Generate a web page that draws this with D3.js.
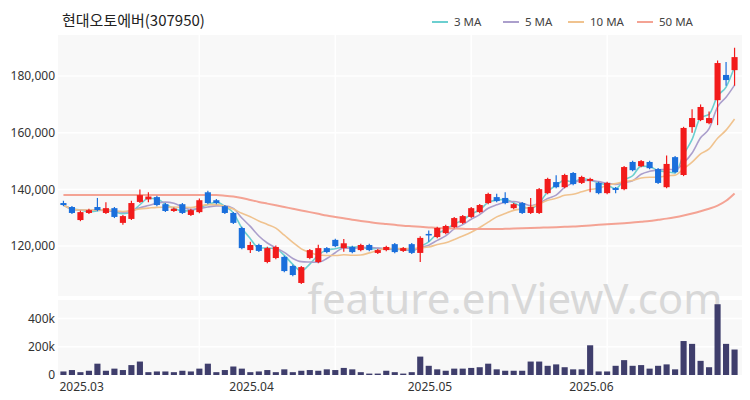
<!DOCTYPE html>
<html><head><meta charset="utf-8">
<script src="https://cdn.jsdelivr.net/npm/d3@7"></script>
<style>body{margin:0;background:#fff}svg{font-family:"Noto Sans CJK KR","Noto Sans",sans-serif}</style>
</head><body><svg id="c" width="750" height="400"></svg>
<script>
const openK=[135.2,133.8,129.2,131.7,133.8,131.7,133.4,128.2,129.6,135.6,136.5,137.3,134.8,132.4,134.8,131,132,139,136.2,134.1,131.7,126.4,118.6,120.4,114.4,115.8,116.2,113,107,115.8,114.4,119.3,122.2,119.3,119.7,118.6,120.4,117.6,118.6,120.7,118.3,120.7,117.6,124.3,123.2,124.6,126.7,128.2,130.3,132,135.2,137.3,137,133.4,135.2,131.7,131.7,138.7,142.6,140.8,145.8,142.3,143,142.3,138.7,140.5,140.1,149.7,148.2,149.7,147.2,140.8,151.4,145.1,162,164.5,163.4,171.5,180.4,182.1];
const closeK=[134.5,131.7,132,132.7,132.7,133.4,130.3,130.6,135.2,138,137.5,134.5,132.4,133.2,131.7,132.7,136.2,135.2,135.2,131.7,128.2,119.3,120.4,118.3,119.3,119.7,111.2,109.8,112.6,118.6,119.3,117.9,120,121,117.9,120.4,118.6,118.6,119.7,117.9,119.3,117.6,122.9,124,126.4,127.1,129.9,130.6,133.4,134.5,138.4,135.9,135.2,134.8,131.7,133.8,140.1,143.7,140.8,145.1,141.9,144.4,143.7,138.7,142.3,139.8,147.9,146.8,150,147.5,142.3,149,146.1,161.7,165.2,169.1,165.2,184.6,178.6,186.7];
const highK=[136,134.2,132.5,133.2,137,135.5,133.8,131,136,140,139,137.8,135.2,133.6,135.2,133.2,136.8,139.5,136.6,134.5,132,126.8,121.5,120.8,119.8,120.2,116.6,113.4,113,119,120.5,119.7,122.6,122.5,120.1,120.8,120.8,119,120.1,121.1,119.7,121.1,123.5,125.5,126.8,127.5,130.3,131,133.8,134.9,138.8,138.5,139,135.2,135.6,137,140.5,144.1,145,145.5,146.2,144.8,144.1,142.7,142.7,140.9,148.3,150.1,150.4,150.1,147.6,152,151.8,162.1,168.3,170,167.5,185.5,185,190];
const lowK=[134.1,131.3,128.8,131.3,132.3,131.3,129.9,127.5,129.2,135.2,135.5,134.1,132,132,131.3,130.6,131.6,134.8,134.8,131.3,127.8,118.9,117.6,117.9,114,115.4,110.8,109.4,106.6,115.4,114,117.5,119.6,118,117.5,118.2,118.2,117.2,118.2,117.5,117.9,117.2,114.4,121.5,122.8,124.2,126.3,127.8,129.9,131.6,134.8,135.5,134.8,133,131.3,131.3,131.3,138.3,140.4,140.4,141.5,141.9,139,138.3,138.3,138.7,139.7,146.4,147.8,147.1,141.9,140.4,145.7,144.7,160,164.1,163,162.7,176.6,176.6];
const volumeK=[25,35,20,30,80,30,45,35,70,95,20,25,25,20,30,25,45,80,20,35,60,45,20,25,35,20,40,20,30,35,30,40,35,50,40,20,10,10,30,20,10,20,130,65,40,30,45,45,50,55,80,40,30,30,30,95,95,65,75,55,40,40,210,25,25,65,105,65,70,45,65,75,40,240,220,100,55,500,220,180];
const ma50K=[138,138,138,138,138,138,138,138,138,138,138,138,138,138,138,138,138,138,138,137.8,137.5,137,136.3,135.6,135,134.4,133.8,133.2,132.6,132,131.4,130.8,130.3,129.8,129.3,128.9,128.5,128.1,127.8,127.5,127.2,127,126.8,126.6,126.4,126.3,126.2,126.1,126,126,126,126,126.1,126.2,126.3,126.4,126.5,126.6,126.7,126.8,126.9,127.1,127.3,127.5,127.7,127.9,128.1,128.3,128.6,128.9,129.3,129.7,130.2,130.8,131.5,132.3,133.2,134.3,136,138.6];
const monthLabels=[{i:0,t:"2025.03"},{i:20,t:"2025.04"},{i:41,t:"2025.05"},{i:60,t:"2025.06"}];
const priceTicks=[120000,140000,160000,180000];
const volTicks=[0,200000,400000];
const title="현대오토에버(307950)";
const maDefs=[{n:3,label:"3 MA",c:"#6ccfd0"},{n:5,label:"5 MA",c:"#ab9fcc"},{n:10,label:"10 MA",c:"#f0c38f"},{n:50,label:"50 MA",c:"#f4a394"}];

const svg=d3.select("#c");
const N=closeK.length, idx=d3.range(N);
const x=d3.scaleBand().domain(idx).range([58,740]).padding(0.28);
const cx=i=>x(i)+x.bandwidth()/2;
const y=d3.scaleLinear().domain([102400,194500]).range([296,35]);
const yv=d3.scaleLinear().domain([0,530000]).range([375,300]);

svg.append("rect").attr("x",58).attr("y",35).attr("width",684).attr("height",261).attr("fill","#f8f8f8");
svg.append("rect").attr("x",58).attr("y",300).attr("width",684).attr("height",75).attr("fill","#f8f8f8");
// grid
svg.selectAll(".hg").data(priceTicks).join("line").attr("x1",58).attr("x2",742).attr("y1",d=>y(d)).attr("y2",d=>y(d)).attr("stroke","#fff").attr("stroke-width",1.5);
svg.selectAll(".vg").data([16,32,48,64]).join("line").attr("x1",d=>cx(d)).attr("x2",d=>cx(d)).attr("y1",35).attr("y2",375).attr("stroke","#fff").attr("stroke-width",1.5);
svg.selectAll(".vhg").data([200000,400000]).join("line").attr("x1",58).attr("x2",742).attr("y1",d=>yv(d)).attr("y2",d=>yv(d)).attr("stroke","#fff").attr("stroke-width",1.5);

// watermark
svg.append("text").attr("x",515).attr("y",314).attr("text-anchor","middle").attr("font-size",42).attr("fill","#d8d8d8").attr("font-family","Noto Sans").text("feature.enViewV.com");

// axes
const ya=svg.append("g").attr("transform","translate(58,0)").call(d3.axisLeft(y).tickValues(priceTicks).tickSize(0).tickPadding(3).tickFormat(d3.format(",")));
const yva=svg.append("g").attr("transform","translate(58,0)").call(d3.axisLeft(yv).tickValues(volTicks).tickSize(0).tickPadding(3).tickFormat(d=>d===0?"0":d3.format("~s")(d)));
const xa=svg.append("g").attr("transform","translate(0,376)").call(d3.axisBottom(x).tickValues(monthLabels.map(d=>d.i)).tickSize(0).tickPadding(6).tickFormat(i=>monthLabels.find(m=>m.i===i).t));
xa.selectAll("text").attr("text-anchor","start").attr("dx",-4);
[ya,yva,xa].forEach(g=>{g.select(".domain").remove();g.selectAll("text").attr("font-size",12).attr("fill","#333").attr("font-family","Noto Sans");});

// MA lines
const closes=closeK.map(v=>v*1000);
function ma(n){return closes.map((c,i)=>{const s=closes.slice(Math.max(0,i-n+1),i+1);return d3.mean(s);});}
const line=d3.line().x((d,i)=>cx(i)).y(d=>y(d)).curve(d3.curveMonotoneX);
maDefs.forEach(m=>{
  const vals=m.n===50?ma50K.map(v=>v*1000):ma(m.n);
  svg.append("path").attr("d",line(vals)).attr("fill","none").attr("stroke",m.c).attr("stroke-width",m.n===50?2:1.6);
});

// candles
const up="#f21b1b", dn="#1a6fdc";
const g=svg.append("g");
idx.forEach(i=>{
  const o=openK[i]*1000,c=closes[i],h=highK[i]*1000,l=lowK[i]*1000;
  const col=c>=o?up:dn;
  g.append("line").attr("x1",cx(i)).attr("x2",cx(i)).attr("y1",y(h)).attr("y2",y(l)).attr("stroke",col).attr("stroke-width",1.2);
  const t=y(Math.max(o,c)),b=y(Math.min(o,c));
  g.append("rect").attr("x",x(i)).attr("width",x.bandwidth()).attr("y",t).attr("height",Math.max(1.5,b-t)).attr("fill",col);
});
// volume
svg.selectAll(".vb").data(volumeK).join("rect").attr("x",(d,i)=>x(i)).attr("width",x.bandwidth()).attr("y",d=>yv(d*1000)).attr("height",d=>375-yv(d*1000)).attr("fill","#3f3e6c");

// title
svg.append("text").attr("x",62).attr("y",26).attr("font-size",15).attr("fill","#222").text(title);
// legend
const lx=[432,503,568,637];
maDefs.forEach((m,k)=>{
  svg.append("line").attr("x1",lx[k]).attr("x2",lx[k]+16).attr("y1",22).attr("y2",22).attr("stroke",m.c).attr("stroke-width",2);
  svg.append("text").attr("x",lx[k]+22).attr("y",26).attr("font-size",11.5).attr("fill","#444").attr("font-family","Noto Sans").text(m.label);
});
</script></body></html>
